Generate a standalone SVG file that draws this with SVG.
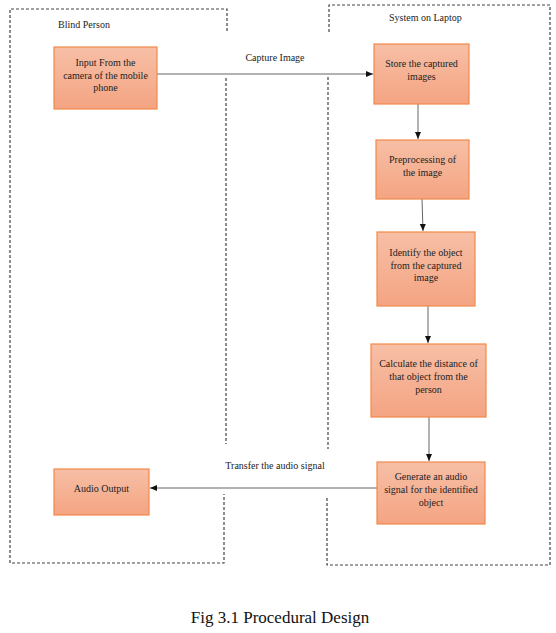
<svg xmlns="http://www.w3.org/2000/svg" width="556" height="633" viewBox="0 0 556 633">
<style>
.t{font-family:"Liberation Serif","Times New Roman",serif;font-size:10px;fill:#222;text-anchor:middle}
.lbl{font-family:"Liberation Serif","Times New Roman",serif;font-size:10px;fill:#222}
.box{fill:url(#g);stroke:#f0894a;stroke-width:1.2}
.dash{fill:none;stroke:#444;stroke-width:1.2;stroke-dasharray:3,2}
.conn{fill:none;stroke:#666;stroke-width:1}
</style>
<defs>
<linearGradient id="g" x1="0" y1="0" x2="0" y2="1">
<stop offset="0" stop-color="#f7bfa6"/>
<stop offset="1" stop-color="#f4a482"/>
</linearGradient>
<marker id="ah" markerWidth="8" markerHeight="8" refX="7" refY="4" orient="auto" markerUnits="userSpaceOnUse">
<path d="M0,1 L7,4 L0,7 Z" fill="#111"/>
</marker>
</defs>
<rect width="556" height="633" fill="#fff"/>
<g id="lanes">
<path class="dash" d="M227,31 V9 H10 V563 H224 V494"/>
<path class="dash" d="M226,78 V444"/>
<path class="dash" d="M329,32 V5 H550 V565 H327 V496"/>
<path class="dash" d="M328,77 V449"/>
<text class="lbl" x="58" y="28">Blind Person</text>
<text class="lbl" x="389" y="21">System on Laptop</text>
</g>
<g id="connectors">
<line class="conn" x1="157" y1="74" x2="373" y2="74" marker-end="url(#ah)"/>
<text class="t" x="275" y="61">Capture Image</text>
<line class="conn" x1="418" y1="104" x2="418" y2="139" marker-end="url(#ah)"/>
<line class="conn" x1="422" y1="199" x2="423" y2="231" marker-end="url(#ah)"/>
<line class="conn" x1="428" y1="306" x2="428" y2="343" marker-end="url(#ah)"/>
<line class="conn" x1="429" y1="417" x2="429" y2="461" marker-end="url(#ah)"/>
<line class="conn" x1="377" y1="488" x2="150" y2="488" marker-end="url(#ah)"/>
<text class="t" x="275" y="469">Transfer the audio signal</text>
</g>
<g id="n1"><rect class="box" x="54" y="47" width="103" height="62"/>
<text class="t" x="105.5" y="66">Input From the</text><text class="t" x="105.5" y="78.5">camera of the mobile</text><text class="t" x="105.5" y="91">phone</text></g>
<g id="n2"><rect class="box" x="374" y="44" width="95" height="60"/>
<text class="t" x="421.5" y="67">Store the captured</text><text class="t" x="421.5" y="80">images</text></g>
<g id="n3"><rect class="box" x="376" y="140" width="93" height="59"/>
<text class="t" x="422.5" y="163">Preprocessing of</text><text class="t" x="422.5" y="176">the image</text></g>
<g id="n4"><rect class="box" x="377" y="232" width="98" height="74"/>
<text class="t" x="426" y="256">Identify the object</text><text class="t" x="426" y="269">from the captured</text><text class="t" x="426" y="281">image</text></g>
<g id="n5"><rect class="box" x="371" y="344" width="115" height="73"/>
<text class="t" x="428.5" y="367">Calculate the distance of</text><text class="t" x="428.5" y="380">that object from the</text><text class="t" x="428.5" y="393">person</text></g>
<g id="n6"><rect class="box" x="377" y="462" width="108" height="62"/>
<text class="t" x="431" y="480">Generate an audio</text><text class="t" x="431" y="493">signal for the identified</text><text class="t" x="431" y="506">object</text></g>
<g id="n7"><rect class="box" x="54" y="469" width="95" height="46"/>
<text class="t" x="101.5" y="492">Audio Output</text></g>
<text x="280" y="623" style="font-family:'Liberation Serif','Times New Roman',serif;font-size:17px;fill:#111;text-anchor:middle">Fig 3.1 Procedural Design</text>
</svg>
